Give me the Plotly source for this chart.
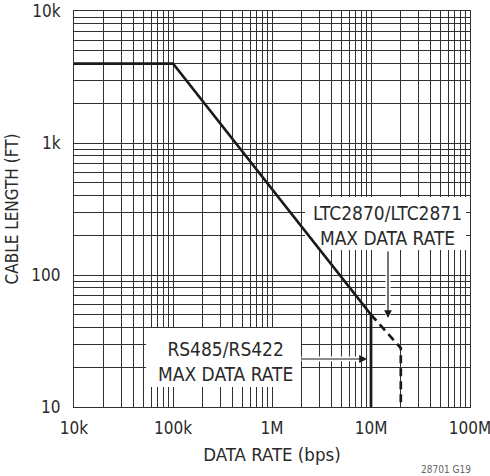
import plotly.graph_objects as go

# ---- data ----
rs485_rate = [1e4, 1e5, 1e7, 1e7]
rs485_len = [4000, 4000, 50, 10]
ltc_rate = [1e7, 2e7, 2e7]
ltc_len = [50, 28, 10]

x_decades = [1e4, 1e5, 1e6, 1e7, 1e8]
x_labels = ["10k", "100k", "1M", "10M", "100M"]
y_decades = [10, 100, 1000, 10000]
y_labels = ["10", "100", "1k", "10k"]

def grid_ticks(decades, labels):
    vals, texts = [], []
    for i, d in enumerate(decades):
        vals.append(d); texts.append(labels[i])
        if i < len(decades) - 1:
            for k in range(2, 10):
                vals.append(d * k); texts.append("")
    return vals, texts

xv, xt = grid_ticks(x_decades, x_labels)
yv, yt = grid_ticks(y_decades, y_labels)

FONT = "DejaVu Sans Condensed, DejaVu Sans, sans-serif"
TXT = "#2a2a2a"
GRID = "#303030"

L, R, T, B = 74, 470, 11, 407
W = R - L
H = B - T
def px(x): return (x - L) / W
def py(y): return (B - y) / H
def dx(p): return 10 ** (4 + 4 * (p - L) / W)
def dy(p): return 10 ** (1 + 3 * (B - p) / H)

fig = go.Figure()

# white label backgrounds (cover grid, but stay under the curves)
for (x0, x1, y0, y1) in [(305, 466, 197, 250), (146, 301, 328, 387)]:
    fig.add_trace(go.Scatter(
        x=[dx(x0), dx(x1), dx(x1), dx(x0), dx(x0)],
        y=[dy(y0), dy(y0), dy(y1), dy(y1), dy(y0)],
        mode="lines", fill="toself", fillcolor="white",
        line=dict(width=0, color="white"), hoverinfo="skip", showlegend=False))

fig.add_trace(go.Scatter(x=rs485_rate, y=rs485_len, mode="lines",
                         line=dict(color="#1a1a1a", width=2.7), showlegend=False))
fig.add_trace(go.Scatter(x=ltc_rate, y=ltc_len, mode="lines",
                         line=dict(color="#1a1a1a", width=2.7, dash="8px,5px"), showlegend=False))

C = dict(xref="paper", yref="paper", xanchor="center", yanchor="middle")
annotations = [
    dict(C, x=px(387), y=py(225), showarrow=False,
         text="LTC2870/LTC2871<br>MAX DATA RATE", font=dict(family=FONT, size=19, color=TXT),
         align="center"),
    dict(C, x=px(225), y=py(361), showarrow=False,
         text="RS485/RS422<br>MAX DATA RATE", font=dict(family=FONT, size=19, color=TXT),
         align="center"),
    # white halos
    dict(C, x=px(388), y=py(316), ax=0, ay=-66, text="",
         showarrow=True, arrowhead=0, arrowwidth=5, arrowcolor="white"),
    dict(C, x=px(365), y=py(359), ax=-65, ay=0, text="",
         showarrow=True, arrowhead=0, arrowwidth=5, arrowcolor="white"),
    # arrows
    dict(C, x=px(388), y=py(318), ax=0, ay=-68, text="",
         showarrow=True, arrowhead=2, arrowsize=1.3, arrowwidth=1.2, arrowcolor="#1a1a1a"),
    dict(C, x=px(367), y=py(359), ax=-67, ay=0, text="",
         showarrow=True, arrowhead=2, arrowsize=1.3, arrowwidth=1.2, arrowcolor="#1a1a1a"),
    dict(C, x=px(446), y=py(469), showarrow=False,
         text="28701 G19", font=dict(family=FONT, size=10, color="#666")),
]

axis_common = dict(type="log", showgrid=True, gridcolor=GRID, gridwidth=1.1,
                   showline=True, linecolor=GRID, linewidth=1.1, mirror=True,
                   ticks="outside", tickcolor="rgba(0,0,0,0)", ticklabeloverflow="allow",
                   automargin=False,
                   zeroline=False, tickfont=dict(family=FONT, size=17, color=TXT))

fig.update_layout(
    width=490, height=476,
    margin=dict(l=L, r=490 - R, t=T, b=476 - B, autoexpand=False),
    paper_bgcolor="white", plot_bgcolor="white",
    annotations=annotations,
    xaxis=dict(axis_common, range=[4, 8], tickvals=xv, ticktext=xt, ticklen=6,
               title=dict(text="DATA RATE (bps)", standoff=10,
                          font=dict(family=FONT, size=18.5, color=TXT))),
    yaxis=dict(axis_common, range=[1, 4], tickvals=yv, ticktext=yt, ticklen=9,
               title=dict(text="CABLE LENGTH (FT)", standoff=8,
                          font=dict(family=FONT, size=17, color=TXT))),
)

fig.write_html("out.html")
